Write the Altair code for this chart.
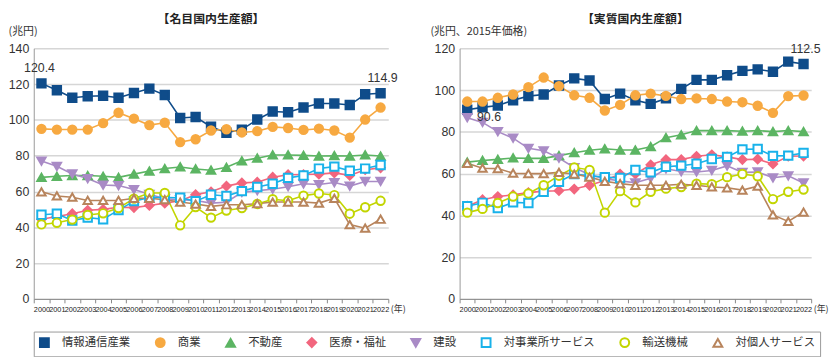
import altair as alt
import pandas as pd

YEARS = ["2000", "2001", "2002", "2003", "2004", "2005", "2006", "2007", "2008", "2009", "2010",
         "2011", "2012", "2013", "2014", "2015", "2016", "2017", "2018", "2019", "2020", "2021", "2022"]

SERIES = ["情報通信産業", "商業", "不動産", "医療・福祉", "建設", "対事業所サービス", "輸送機械", "対個人サービス"]
COLORS = ["#0f4c8a", "#f7a941", "#5cb563", "#f2667e", "#a98bc6", "#19b2ea", "#c2d500", "#b8845c"]
FILLS = ["#0f4c8a", "#f7a941", "#5cb563", "#f2667e", "#a98bc6", "#ffffff", "#ffffff", "#ffffff"]
SHAPES = ["square", "circle", "triangle-up", "diamond", "triangle-down", "square", "circle", "triangle-up"]

# 名目国内生産額 (兆円)
N_ICT = [120.4, 116.6, 112.4, 113.2, 113.5, 112.4, 115.0, 117.5, 113.9, 101.1, 101.6, 96.2, 92.8, 94.6, 100.2, 104.7, 104.3, 106.9, 109.2, 109.2, 108.3, 114.3, 114.9]
N_COM = [95.0, 94.6, 94.6, 94.6, 98.2, 104.0, 100.7, 97.1, 98.4, 87.6, 89.2, 94.1, 94.8, 93.0, 93.7, 96.1, 95.5, 94.4, 95.1, 94.1, 90.1, 100.2, 106.9]
N_RE = [67.9, 68.5, 68.9, 68.9, 68.5, 67.9, 69.7, 71.4, 72.8, 73.7, 72.6, 71.9, 73.5, 77.1, 78.6, 80.4, 80.4, 80.2, 79.8, 80.0, 79.8, 80.4, 79.8]
N_MED = [44.5, 46.0, 47.6, 49.5, 50.0, 51.2, 51.0, 52.2, 53.5, 54.8, 58.2, 59.8, 63.0, 64.8, 65.2, 68.0, 69.4, 69.5, 69.7, 70.4, 69.0, 72.2, 73.2]
N_CON = [77.0, 74.1, 69.8, 67.2, 63.6, 63.3, 61.1, 58.4, 55.9, 55.4, 55.0, 53.5, 54.0, 59.5, 60.5, 61.3, 62.7, 64.3, 63.9, 65.0, 63.0, 65.6, 65.6]
N_BIZ = [47.0, 47.6, 43.8, 45.4, 44.5, 49.6, 54.6, 56.6, 56.6, 56.5, 54.6, 58.2, 57.5, 60.2, 62.5, 64.3, 67.6, 68.9, 72.8, 73.9, 71.6, 72.8, 74.8]
N_TRN = [41.6, 42.5, 44.3, 46.9, 47.8, 50.8, 56.0, 59.2, 59.2, 41.1, 51.3, 45.4, 49.4, 50.8, 53.0, 55.7, 54.8, 57.7, 58.9, 58.0, 47.6, 51.2, 54.8]
N_PER = [59.8, 57.5, 56.8, 55.0, 55.0, 55.0, 56.2, 56.2, 55.4, 54.1, 53.0, 51.7, 52.6, 52.6, 53.2, 54.1, 54.1, 54.1, 53.5, 56.2, 41.5, 39.5, 44.5]

# 実質国内生産額 (兆円、2015年価格)
R_ICT = [90.6, 91.7, 92.6, 95.1, 97.1, 97.9, 102.2, 105.6, 104.6, 95.7, 98.3, 95.1, 93.4, 96.0, 100.6, 104.9, 104.9, 107.1, 109.2, 109.9, 108.8, 113.6, 112.5]
R_COM = [94.5, 94.5, 96.3, 97.9, 101.4, 106.0, 101.9, 97.5, 96.3, 90.2, 92.9, 97.5, 98.3, 97.2, 95.7, 96.0, 95.7, 94.5, 94.2, 92.5, 89.1, 97.1, 97.4]
R_RE = [65.5, 66.3, 66.8, 67.5, 67.3, 67.3, 68.6, 70.0, 71.2, 71.9, 71.3, 71.3, 72.9, 77.2, 78.6, 80.6, 80.6, 80.6, 80.3, 80.6, 80.1, 80.6, 80.1]
R_MED = [44.4, 47.5, 49.0, 49.8, 50.9, 51.6, 51.8, 52.6, 54.4, 56.7, 59.8, 59.8, 64.2, 66.7, 66.7, 68.3, 69.0, 68.0, 66.7, 66.9, 64.6, 68.3, 68.4]
R_CON = [86.8, 84.5, 80.1, 77.0, 72.1, 70.9, 67.4, 62.9, 59.5, 57.5, 56.5, 55.6, 57.8, 62.3, 61.0, 60.8, 61.5, 63.7, 60.6, 60.8, 58.0, 58.9, 55.5]
R_BIZ = [44.4, 46.0, 43.5, 46.2, 45.9, 51.3, 56.1, 59.8, 59.0, 58.3, 57.9, 61.7, 60.6, 63.3, 63.8, 64.7, 67.0, 68.0, 71.6, 71.8, 68.5, 68.6, 69.9]
R_TRN = [41.3, 43.1, 45.9, 49.0, 50.5, 54.4, 59.0, 62.9, 61.8, 41.3, 51.6, 46.2, 51.3, 52.8, 53.6, 55.2, 54.9, 58.3, 59.8, 58.7, 47.8, 51.3, 52.4]
R_PER = [64.9, 62.6, 62.4, 60.2, 60.0, 60.0, 60.6, 59.8, 58.3, 56.3, 55.2, 54.4, 54.4, 54.4, 54.9, 54.4, 53.6, 53.2, 52.1, 54.0, 40.2, 37.1, 41.6]

NOMINAL = [N_ICT, N_COM, N_RE, N_MED, N_CON, N_BIZ, N_TRN, N_PER]
REAL = [R_ICT, R_COM, R_RE, R_MED, R_CON, R_BIZ, R_TRN, R_PER]

JP = "Noto Sans CJK JP"
NUM = "Liberation Sans"

H = 253


def long_df(values):
    rows = []
    for s, vals in zip(SERIES, values):
        for yr, v in zip(YEARS, vals):
            rows.append({"series": s, "year": yr, "value": v})
    return pd.DataFrame(rows)


LEG = alt.Legend(orient="bottom", direction="horizontal", offset=18,
                 title=None, labelFont=JP, labelFontSize=11.5, labelColor="#333",
                 symbolSize=80, symbolStrokeWidth=2, labelOffset=12, columnPadding=21,
                 padding=5, strokeColor="#9a9a9a")

STROKE_SCALE = alt.Scale(domain=SERIES, range=COLORS)


def panel(values, title, unit, ymax, width, unit_x, first_dx, first_dy):
    df = long_df(values)
    base = alt.Chart(df)
    x = alt.X("year:N", sort=YEARS, bandPosition=0.5,
              scale=alt.Scale(type="band", paddingInner=0, paddingOuter=0),
              axis=alt.Axis(title="(年)", titleFont=JP, titleFontSize=9, titleFontWeight="normal",
                            titleColor="#333", titleAngle=0, titleAlign="left", titleBaseline="middle",
                            titleX=width + 2, titleY=10,
                            labelFont=NUM, labelFontSize=7.4, labelColor="#222", labelAngle=0,
                            labelOverlap=False, labelBound=False, labelPadding=3,
                            tickBand="extent", tickSize=4, tickColor="#888",
                            domainColor="#888", grid=False))
    y = alt.Y("value:Q", scale=alt.Scale(domain=[0, ymax], nice=False, zero=True),
              axis=alt.Axis(values=list(range(0, ymax + 1, 20)), title=unit, titleFont=JP,
                            titleFontSize=11, titleFontWeight="normal", titleColor="#333",
                            titleAngle=0, titleAlign="left", titleBaseline="middle",
                            titleX=unit_x, titleY=-17,
                            labelFont=NUM, labelFontSize=12.5, labelColor="#333", labelPadding=5,
                            ticks=False, domainColor="#999", gridColor="#d6d6d6", gridWidth=1.5))

    lines = base.mark_line(strokeWidth=1.6).encode(
        x=x, y=y,
        stroke=alt.Stroke("series:N", scale=STROKE_SCALE, legend=LEG),
        detail="series:N",
    )
    points = base.mark_point(size=72, strokeWidth=2, opacity=1).encode(
        x=x, y=y,
        stroke=alt.Stroke("series:N", scale=STROKE_SCALE, legend=LEG),
        fill=alt.Fill("series:N", scale=alt.Scale(domain=SERIES, range=FILLS), legend=LEG),
        shape=alt.Shape("series:N", scale=alt.Scale(domain=SERIES, range=SHAPES), legend=LEG),
    )
    first = base.transform_filter(
        (alt.datum.series == SERIES[0]) & (alt.datum.year == YEARS[0])
    ).mark_text(font=NUM, fontSize=12.5, color="#333", dx=first_dx, dy=first_dy).encode(
        x=x, y=y, text=alt.Text("value:Q", format=".1f"))
    last = base.transform_filter(
        (alt.datum.series == SERIES[0]) & (alt.datum.year == YEARS[-1])
    ).mark_text(font=NUM, fontSize=12.5, color="#333", dx=2, dy=-15).encode(
        x=x, y=y, text=alt.Text("value:Q", format=".1f"))

    return alt.layer(lines, points, first, last).properties(
        width=width, height=H,
        title=alt.TitleParams(title, font=JP, fontSize=12, fontWeight="bold", color="#222",
                              anchor="middle", offset=0),
    )


left = panel(NOMINAL, "【名目国内生産額】", "(兆円)", 140, 358, -26, -2, -16)
right = panel(REAL, "【実質国内生産額】", "(兆円、2015年価格)", 120, 355, -30, 22, 7)

chart = alt.hconcat(left, right, spacing=72, bounds="flush").properties(
    padding={"top": 3, "left": 0, "right": 0, "bottom": 0}
).configure_view(stroke=None)

chart.save("out.html", embed_options={"renderer": "svg", "actions": False})
